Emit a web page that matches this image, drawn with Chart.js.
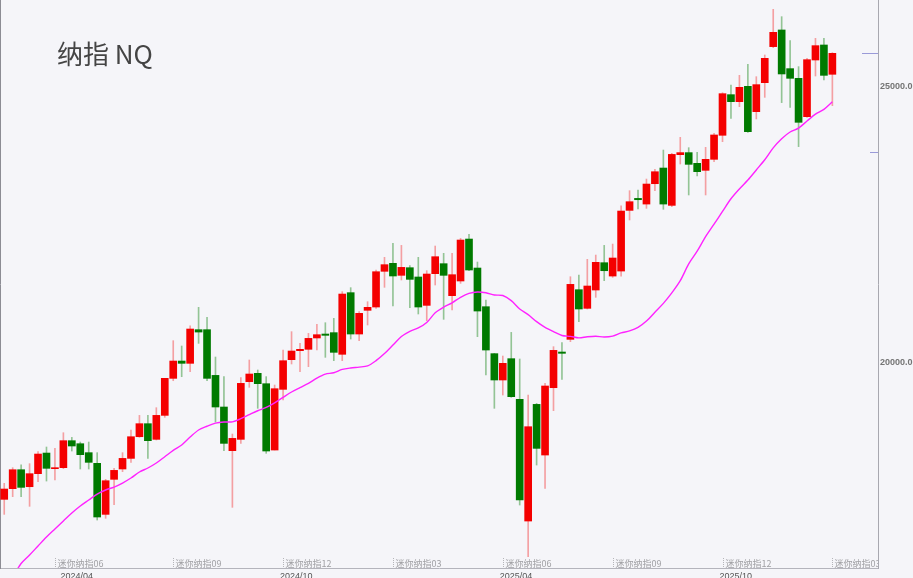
<!DOCTYPE html>
<html><head><meta charset="utf-8">
<script src="https://cdn.jsdelivr.net/npm/chart.js@4.4.1/dist/chart.umd.min.js"></script>
<style>
html,body{margin:0;padding:0;background:#f5f5f9;}
#wrap{position:relative;width:913px;height:578px;overflow:hidden;background:#f5f5f9;}
#c{position:absolute;left:0;top:0;}
#title{position:absolute;left:57px;top:40px;font-size:26px;line-height:26px;font-family:"Noto Sans CJK SC","Noto Sans",sans-serif;color:#444;white-space:nowrap;}
</style></head><body>
<div id="wrap"><canvas id="c" width="913" height="578"></canvas><div id="title">纳指 NQ</div></div>
<script>
// weekly candles (week start dates)
const weeks = [
'2024-01-29','2024-02-05','2024-02-12','2024-02-19','2024-02-26','2024-03-04','2024-03-11','2024-03-18','2024-03-25','2024-04-01',
'2024-04-08','2024-04-15','2024-04-22','2024-04-29','2024-05-06','2024-05-13','2024-05-20','2024-05-27','2024-06-03','2024-06-10',
'2024-06-17','2024-06-24','2024-07-01','2024-07-08','2024-07-15','2024-07-22','2024-07-29','2024-08-05','2024-08-12','2024-08-19',
'2024-08-26','2024-09-02','2024-09-09','2024-09-16','2024-09-23','2024-09-30','2024-10-07','2024-10-14','2024-10-21','2024-10-28',
'2024-11-04','2024-11-11','2024-11-18','2024-11-25','2024-12-02','2024-12-09','2024-12-16','2024-12-23','2024-12-30','2025-01-06',
'2025-01-13','2025-01-20','2025-01-27','2025-02-03','2025-02-10','2025-02-17','2025-02-24','2025-03-03','2025-03-10','2025-03-17',
'2025-03-24','2025-03-31','2025-04-07','2025-04-14','2025-04-21','2025-04-28','2025-05-05','2025-05-12','2025-05-19','2025-05-26',
'2025-06-02','2025-06-09','2025-06-16','2025-06-23','2025-06-30','2025-07-07','2025-07-14','2025-07-21','2025-07-28','2025-08-04',
'2025-08-11','2025-08-18','2025-08-25','2025-09-01','2025-09-08','2025-09-15','2025-09-22','2025-09-29','2025-10-06','2025-10-13',
'2025-10-20','2025-10-27','2025-11-03','2025-11-10','2025-11-17','2025-11-24','2025-12-01','2025-12-08','2025-12-15'];

const opens = [17503,17697,18042,17733,17970,18345,18061,18079,18570,18515,
18352,18158,17230,17867,18055,18248,18642,18879,18594,19030,
19703,20018,19976,20588,20588,19757,19182,18388,18594,19643,
19794,19606,18400,19503,20043,20206,20231,20437,20509,20534,
20140,21261,20509,20940,21000,21649,21794,21576,21715,21546,
21030,21606,21788,21206,21473,22236,21709,21006,20152,19673,
20061,19321,17109,19230,18309,19533,20182,20412,21315,20976,
21309,21806,21563,21654,22757,22975,22872,23242,23527,22848,
23770,23807,23613,23485,23685,24122,24861,24734,25012,24552,
25079,25734,26037,25334,25158,24461,25491,25764,25231];

const highs = [17794,18079,18133,18152,18370,18455,18430,18715,18630,18545,
18545,18352,17867,18067,18352,18764,19030,19030,19170,19703,
20388,20291,20660,20994,20812,20091,19733,18691,19715,20037,
19855,19734,19582,20218,20552,20340,20521,20685,20715,20794,
21279,21352,20915,21097,21673,21903,22158,22121,21752,21903,
21661,22109,21976,21976,22248,22321,21818,21127,20158,20109,
20539,20055,19400,19248,19612,20279,20352,21551,21582,21867,
21945,22121,22145,22842,23115,23127,23327,23503,23854,23794,
24085,23897,23813,23903,24158,24897,25037,25212,25412,25188,
25582,26412,26279,25843,25370,25521,25885,25885,25625];

const lows = [17230,17552,17552,17376,17824,17836,17855,18061,18382,18055,
18055,17127,17158,17406,18006,18176,18630,18248,18582,18994,
19660,19733,19824,20339,19660,18909,18388,17358,18522,19540,
19158,18340,18400,19309,19964,19824,19915,20218,20085,20024,
20024,20418,20388,20673,20976,21358,21018,21491,20988,20873,
20752,21400,20776,20945,21430,21660,20461,19764,19158,19400,
19358,17400,16461,18127,17703,19115,19685,20370,20733,20964,
21176,21479,21539,21563,22582,22782,22794,23115,22776,22824,
23600,23037,23382,23037,23643,24006,24431,24643,24176,24419,
24812,25715,24716,24631,23916,24449,25200,25128,24661];

const closes = [17691,18042,17721,17970,18327,18067,18079,18570,18473,18315,
18176,17182,17842,18030,18248,18642,18879,18570,19030,19703,
20018,19976,20600,20545,19703,19182,18521,18612,19612,19782,
19606,18382,19515,20024,20200,20231,20430,20497,20485,20176,
21236,20509,20885,20994,21642,21770,21564,21721,21503,21000,
21600,21915,21576,21588,22218,21673,20927,20218,19673,19976,
19370,17491,18824,18430,19564,20212,20158,21412,20964,21382,
21812,21660,21891,22745,22915,22951,23236,23460,22872,23775,
23807,23594,23461,23685,24128,24879,24734,24994,24188,25043,
25521,25994,25237,25158,24358,25497,25752,25212,25612];

// 20-week moving average (magenta line)
const ma20 = [15873,16091,16337,16491,16655,16818,16964,17109,17255,17382,
17491,17600,17673,17727,17800,17891,18000,18073,18164,18278,
18394,18491,18635,18764,18832,18888,18910,18912,18969,19043,
19114,19174,19258,19358,19455,19535,19612,19708,19781,19805,
19866,19892,19907,19929,20026,20155,20308,20463,20558,20619,
20718,20895,20998,21076,21177,21249,21274,21260,21219,21209,
21116,20965,20862,20734,20630,20552,20482,20466,20439,20459,
20469,20456,20472,20530,20565,20629,20744,20906,21066,21256,
21478,21783,22015,22278,22506,22739,22968,23147,23308,23492,
23677,23894,24061,24182,24254,24381,24507,24594,24731];

// bottom date ticks (candle index -> label)
const dateTickIdx = [7, 33, 59, 85];
const dateTickLabels = ['2024/04', '2024/10', '2025/04', '2025/10'];
// contract roll markers
const rollIdx = [6, 20, 33, 46, 59, 72, 85, 98];
const rollLabels = ['迷你纳指06','迷你纳指09','迷你纳指12','迷你纳指03','迷你纳指06','迷你纳指09','迷你纳指12','迷你纳指03'];
// right axis
const yTickValues = [20000, 25000];
const yMin = 16255, yMax = 26582;
const markerLevels = [25612, 23825];

const UP = '#f40000', DOWN = '#007a00';
const UPW = 'rgba(244,0,0,0.35)', DOWNW = 'rgba(0,122,0,0.4)';
const isUp = i => closes[i] >= opens[i];

const bodyData = opens.map((o, i) => ({x: i, y: [o, closes[i]]}));
const wickData = lows.map((l, i) => ({x: i, y: [l, highs[i]]}));
const maData = ma20.map((v, i) => ({x: i, y: v}));

const overlay = {
  id: 'overlay',
  afterDatasetsDraw(chart) {
    const {ctx, chartArea: ca, scales: {x, y}} = chart;
    ctx.save();
    ctx.beginPath(); ctx.rect(ca.left, ca.top, ca.right - ca.left, ca.bottom - ca.top); ctx.clip();
    ctx.font = '9px "Noto Sans CJK SC", sans-serif';
    ctx.fillStyle = '#a0a0a4';
    ctx.textBaseline = 'middle';
    ctx.textAlign = 'left';
    rollIdx.forEach((ix, k) => {
      const px = Math.round(x.getPixelForValue(ix)) + 0.5;
      ctx.strokeStyle = '#b4b4b8';
      ctx.lineWidth = 1;
      ctx.setLineDash([1, 1]);
      ctx.beginPath(); ctx.moveTo(px, ca.bottom - 10); ctx.lineTo(px, ca.bottom - 1); ctx.stroke();
      ctx.fillText(rollLabels[k], px + 2, ca.bottom - 4.5);
    });
    ctx.restore();
    ctx.save();
    ctx.strokeStyle = '#9a9ad8';
    ctx.lineWidth = 1;
    const lens = [16, 8];
    markerLevels.forEach((v, k) => {
      const py = Math.round(y.getPixelForValue(v)) + 0.5;
      ctx.beginPath(); ctx.moveTo(ca.right - lens[k], py); ctx.lineTo(ca.right, py); ctx.stroke();
    });
    ctx.restore();
  }
};

new Chart(document.getElementById('c'), {
  type: 'bar',
  data: {
    labels: weeks,
    datasets: [
      {type: 'line', label: 'MA20', data: maData, borderColor: '#ff22ff', borderWidth: 1.4,
       pointRadius: 0, tension: 0.3, order: 0},
      {type: 'bar', label: 'body', data: bodyData, grouped: false, barThickness: 7, minBarLength: 1,
       backgroundColor: c => isUp(c.dataIndex) ? UP : DOWN, borderWidth: 0, order: 1},
      {type: 'bar', label: 'wick', data: wickData, grouped: false, barThickness: 1,
       backgroundColor: c => isUp(c.dataIndex) ? UPW : DOWNW, borderWidth: 0, order: 2}
    ]
  },
  options: {
    responsive: false, animation: false,
    layout: {padding: 0},
    plugins: {legend: {display: false}, tooltip: {enabled: false}},
    scales: {
      x: {
        type: 'linear', min: -0.5, max: 103.4, offset: false,
        grid: {display: false, drawTicks: false},
        border: {color: '#b4b4bc'},
        afterFit: s => { s.height = 10; s.paddingLeft = 0; s.paddingRight = 0; },
        afterBuildTicks: s => { s.ticks = dateTickIdx.map(v => ({value: v})); },
        ticks: {
          callback: v => { const k = dateTickIdx.indexOf(v); return k >= 0 ? dateTickLabels[k] : ''; },
          align: 'start', labelOffset: -3, padding: 3, autoSkip: false, maxRotation: 0,
          color: '#555', font: {size: 9, family: 'Arial, "Liberation Sans", sans-serif'}
        }
      },
      y: {
        position: 'right', min: yMin, max: yMax,
        grid: {display: false, drawTicks: false},
        border: {color: '#a8a8b0'},
        afterFit: s => { s.width = 35; s.paddingTop = 0; s.paddingBottom = 0; },
        afterBuildTicks: s => { s.ticks = yTickValues.map(v => ({value: v})); },
        ticks: {
          callback: v => Number(v).toFixed(1), padding: 2,
          color: '#747474', font: {size: 9, weight: 'bold', family: 'Arial, "Liberation Sans", sans-serif'}
        }
      },
      yl: {
        position: 'left', display: true,
        grid: {display: false, drawTicks: false},
        ticks: {display: false},
        border: {color: '#8c8c94'},
        afterFit: s => { s.width = 0; s.paddingTop = 0; s.paddingBottom = 0; }
      }
    }
  },
  plugins: [overlay]
});
</script>
</body></html>
